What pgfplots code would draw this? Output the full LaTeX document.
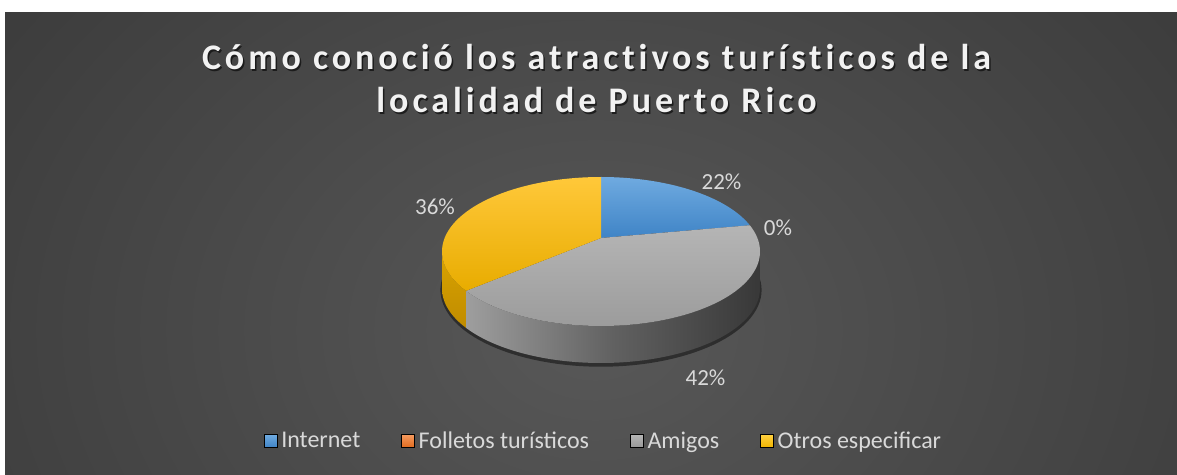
\documentclass[border=0pt]{standalone}
\usepackage{pgfplots}
\pgfplotsset{compat=1.18}
\usepackage{pgfplotstable}
\usepackage{fontspec}
\setmainfont{Carlito}
\newfontfamily\titlefont[LetterSpace=11, Ligatures={NoCommon}]{Carlito}

\definecolor{lbl}{HTML}{D9D9D9}
\definecolor{ysideA}{HTML}{D9A300}
\definecolor{ysideB}{HTML}{C08C00}
\definecolor{btop}{HTML}{6FAAE0}
\definecolor{bbot}{HTML}{3F84C6}
\definecolor{gtop}{HTML}{B5B5B5}
\definecolor{gbot}{HTML}{9C9C9C}
\definecolor{ytop}{HTML}{FFC83A}
\definecolor{ybot}{HTML}{E8AC00}
\definecolor{otop}{HTML}{F59A5E}
\definecolor{obot}{HTML}{E06A1E}
\definecolor{lytop}{HTML}{FFD040}
\definecolor{lybot}{HTML}{F0B400}
\definecolor{lgbot}{HTML}{989898}
\definecolor{bgin}{HTML}{585858}
\definecolor{bgout}{HTML}{262626}

\pgfplotstableread{
cat value
Internet 22
Folletos 0
Amigos 42
Otros 36
}\piedata

% pie geometry (pixel units)
\def\cx{601}\def\cy{222.5}\def\rx{159}\def\ry{74.5}\def\dep{37}
\def\ax{601}\def\ay{236}

% top wedge from data angle #1 to #2 (remapped for perspective)
\newcommand\wedgetop[3]{%
\addplot[forget plot, draw=none, #3, samples at={0,1,...,101}]
 ({ifthenelse(x>100,\ax,\cx+\rx*cos((#1+(#2-#1)*x/100)+10*cos(#1+(#2-#1)*x/100)))},
  {ifthenelse(x>100,\ay,\cy+\ry*sin((#1+(#2-#1)*x/100)+10*cos(#1+(#2-#1)*x/100)))});}
% side wall between screen angles #1 and #2
\newcommand\wedgeside[3]{%
\addplot[forget plot, draw=none, #3, samples at={0,1,...,201}]
 ({\cx+\rx*cos(ifthenelse(x<=100,#1+(#2-#1)*x/100,#2+(#1-#2)*(x-101)/100))},
  {\cy+\ry*sin(ifthenelse(x<=100,#1+(#2-#1)*x/100,#2+(#1-#2)*(x-101)/100))-ifthenelse(x>100,\dep,0)});}

\begin{document}
\begin{tikzpicture}
\pgfplotstablegetelem{0}{value}\of\piedata \let\vA\pgfplotsretval
\pgfplotstablegetelem{1}{value}\of\piedata \let\vB\pgfplotsretval
\pgfplotstablegetelem{2}{value}\of\piedata \let\vC\pgfplotsretval
\pgfplotstablegetelem{3}{value}\of\piedata \let\vD\pgfplotsretval
\pgfmathsetmacro\aA{90}
\pgfmathsetmacro\aB{\aA-3.6*\vA}
\pgfmathsetmacro\aC{\aB-3.6*\vB}
\pgfmathsetmacro\aD{\aC-3.6*\vC}
\pgfmathsetmacro\aE{\aD-3.6*\vD}
\pgfmathsetmacro\pD{\aD+10*cos(\aD)}
\begin{axis}[
  width=1177pt, height=474pt, scale only axis,
  xmin=0, xmax=1177, ymin=0, ymax=474,
  hide axis, clip=false,
  legend columns=4,
  legend style={at={(axis cs:603.5,33)}, anchor=center, draw=none, fill=none,
    font=\fontsize{24}{26}\selectfont, text=lbl, nodes={inner sep=2pt},
    /tikz/every even column/.append style={column sep=39pt},
    /tikz/every odd column/.append style={column sep=2pt}},
  legend image code/.code={\fill[#1] (0pt,-6.5pt) rectangle (13pt,6.5pt);},
]
% background
\fill[white] (axis cs:0,0) rectangle (axis cs:1177,474);
\begin{scope}
\clip (axis cs:5,0) rectangle (axis cs:1177,461);
\fill[overlay, inner color=bgin, outer color=bgout] (axis cs:-705,-856) rectangle (axis cs:1895,1144);
\end{scope}

% title
\node[text=black, opacity=0.6, font=\titlefont\bfseries\fontsize{36}{43}\selectfont, align=center, anchor=base]
  at (axis cs:598,359.5) {Cómo conoció los atractivos turísticos de la\\localidad de Puerto Rico};
\node[text=white!95!black, font=\titlefont\bfseries\fontsize{36}{43}\selectfont, align=center, anchor=base]
  at (axis cs:596.5,361) {Cómo conoció los atractivos turísticos de la\\localidad de Puerto Rico};

% shadow
\addplot[forget plot, draw=none, fill=black, opacity=0.45, domain=0:360, samples=120]
  ({\cx+\rx*1.01*cos(x)}, {\cy-\dep-1.5+\ry*1.03*sin(x)});

% side walls
\wedgeside{-180}{\pD}{top color=ysideA, bottom color=ysideB}
\wedgeside{\pD}{0}{left color=black!38, right color=black!78, middle color=black!62}

% tops
\wedgetop{\aA}{\aB}{top color=btop, bottom color=bbot}
\wedgetop{\aC}{\aD}{top color=gtop, bottom color=gbot}
\wedgetop{\aD}{\aE}{top color=ytop, bottom color=ybot}

% data labels
\node[text=lbl, font=\fontsize{23}{24}\selectfont] at (axis cs:721.5,292) {\pgfmathprintnumber[assume math mode=true]{\vA}\%};
\node[text=lbl, font=\fontsize{23}{24}\selectfont] at (axis cs:778,246.5) {\pgfmathprintnumber[assume math mode=true]{\vB}\%};
\node[text=lbl, font=\fontsize{23}{24}\selectfont] at (axis cs:705.5,96.5) {\pgfmathprintnumber[assume math mode=true]{\vC}\%};
\node[text=lbl, font=\fontsize{23}{24}\selectfont] at (axis cs:435,267) {\pgfmathprintnumber[assume math mode=true]{\vD}\%};

% legend
\addlegendimage{top color=btop, bottom color=bbot}
\addlegendentry{Internet}
\addlegendimage{top color=otop, bottom color=obot}
\addlegendentry{Folletos turísticos}
\addlegendimage{top color=gtop, bottom color=lgbot}
\addlegendentry{Amigos}
\addlegendimage{top color=lytop, bottom color=lybot}
\addlegendentry{Otros especificar}
\end{axis}
\end{tikzpicture}
\end{document}
